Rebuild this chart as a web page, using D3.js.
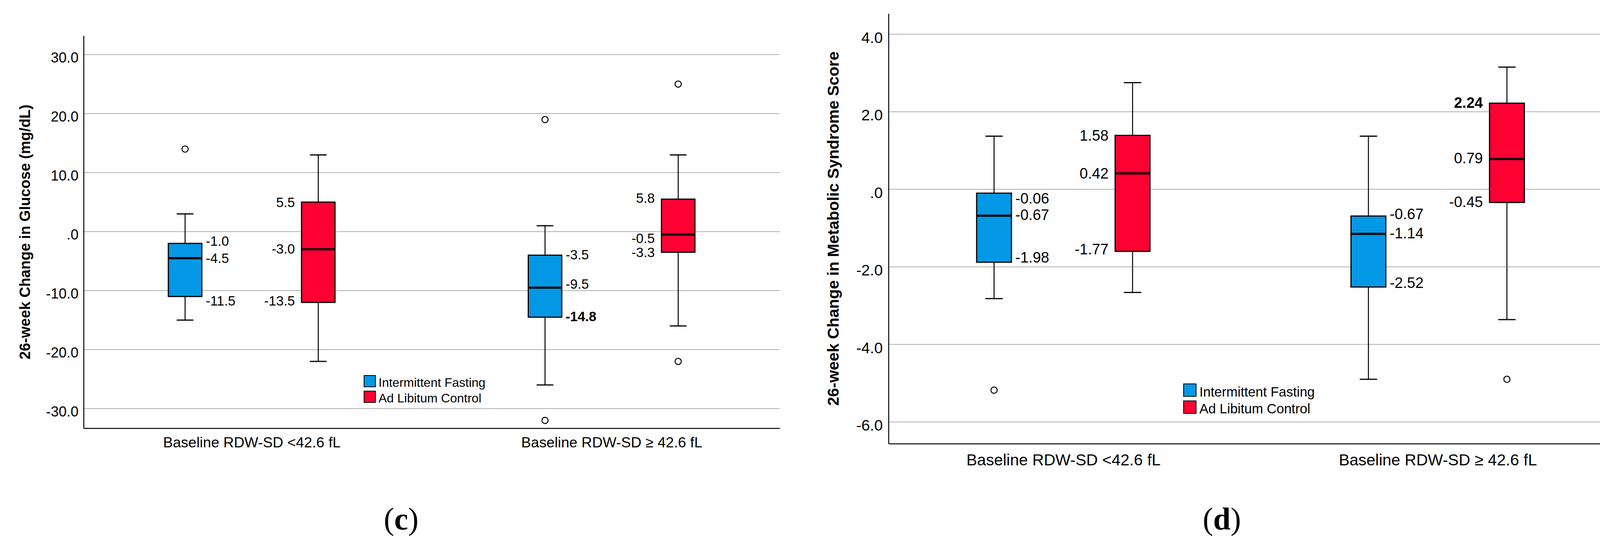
<!DOCTYPE html>
<html>
<head>
<meta charset="utf-8">
<script src="https://cdn.jsdelivr.net/npm/d3@7"></script>
<style>
  body { margin: 0; background: #fff; }
  svg { display: block; }
</style>
</head>
<body>
<script>
// categories and series
const categories = ["Baseline RDW-SD <42.6 fL", "Baseline RDW-SD \u2265 42.6 fL"];
const groups = ["Intermittent Fasting", "Ad Libitum Control"];

// (c) glucose: [lower whisker, Q1, median, Q3, upper whisker] per category
const glucoseIF  = [[-15, -11, -4.5, -2, 3], [-26, -14.5, -9.5, -4, 1]];
const glucoseALC = [[-22, -12, -3, 5, 13], [-16, -3.5, -0.5, 5.5, 13]];
const glucoseOutIF  = [[14], [19, -32]];
const glucoseOutALC = [[], [25, -22]];
// printed values: top, middle, bottom
const glucoseLabIF  = [["-1.0", "-4.5", "-11.5"], ["-3.5", "-9.5", "-14.8"]];
const glucoseLabALC = [["5.5", "-3.0", "-13.5"], ["5.8", "-0.5", "-3.3"]];
const glucoseTicks = [-30, -20, -10, 0, 10, 20, 30];

// (d) metabolic syndrome score
const metsIF  = [[-2.82, -1.88, -0.68, -0.1, 1.37], [-4.9, -2.52, -1.15, -0.69, 1.37]];
const metsALC = [[-2.66, -1.6, 0.41, 1.39, 2.75], [-3.36, -0.34, 0.78, 2.22, 3.15]];
const metsOutIF  = [[-5.18], []];
const metsOutALC = [[], [-4.9]];
const metsLabIF  = [["-0.06", "-0.67", "-1.98"], ["-0.67", "-1.14", "-2.52"]];
const metsLabALC = [["1.58", "0.42", "-1.77"], ["2.24", "0.79", "-0.45"]];
const metsTicks = [-6, -4, -2, 0, 2, 4];

const colors = ["#0398e6", "#ff0033"];
const SANS = "'Liberation Sans', Arial, sans-serif";
const SERIF = "'Liberation Serif', 'Times New Roman', serif";

const svg = d3.select("body").append("svg")
  .attr("width", 4156)
  .attr("height", 1400)
  .attr("viewBox", "0 0 4156 1400");

// SPSS style tick text: ".0", "-10.0"
const spssFmt = d => d === 0 ? ".0" : d.toFixed(1);

const drawPanel = p => {
  const y = d3.scaleLinear().domain(p.domain).range([p.bottom, p.top]);
  const x = d3.scalePoint().domain(categories).range([p.left, p.right]).padding(0.467);
  const step = x.step();
  const xs = d3.scalePoint().domain(groups).range([-0.185 * step, 0.185 * step]);
  const bw = 0.093 * step;

  const g = svg.append("g");

  // gridlines
  g.append("g").selectAll("line")
    .data(p.ticks)
    .join("line")
    .attr("x1", p.left).attr("x2", p.right)
    .attr("y1", d => y(d)).attr("y2", d => y(d))
    .attr("stroke", "#bdbdbd")
    .attr("stroke-width", 2.5);

  // y axis
  const ya = g.append("g")
    .attr("transform", `translate(${p.left},0)`)
    .call(d3.axisLeft(y).tickValues(p.ticks).tickSize(0).tickPadding(p.tickPad).tickFormat(spssFmt))
    .attr("font-family", SANS)
    .attr("font-size", p.fonts.tick);
  ya.select(".domain").attr("stroke", "#000").attr("stroke-width", 2.5);
  ya.selectAll("text").attr("dy", "0.55em").attr("fill", "#000");

  // x axis
  const xa = g.append("g")
    .attr("transform", `translate(0,${p.bottom})`)
    .call(d3.axisBottom(x).tickSize(0).tickSizeOuter(0).tickPadding(p.catBase - 0.71 * p.fonts.cat))
    .attr("font-family", SANS)
    .attr("font-size", p.fonts.cat);
  xa.select(".domain").attr("stroke", "#000").attr("stroke-width", 2.5);
  xa.selectAll("text").attr("fill", "#000");

  // y title
  g.append("text")
    .attr("transform", `translate(${p.titleX},${(p.top + p.bottom) / 2}) rotate(-90)`)
    .attr("text-anchor", "middle")
    .attr("font-family", SANS)
    .attr("font-weight", "bold")
    .attr("font-size", p.fonts.title)
    .text(p.title);

  const boxes = categories.flatMap((c, i) => groups.map((gr, s) => ({
    cx: x(c) + xs(gr),
    s,
    v: p.stats[s][i],
    out: p.outliers[s][i],
    lab: p.labels[s][i],
    nud: p.nudges[s][i]
  })));

  const bg = g.append("g").selectAll("g").data(boxes).join("g");

  // whiskers
  bg.append("line")
    .attr("x1", d => d.cx).attr("x2", d => d.cx)
    .attr("y1", d => y(d.v[4])).attr("y2", d => y(d.v[3]))
    .attr("stroke", "#000").attr("stroke-width", 2.5);
  bg.append("line")
    .attr("x1", d => d.cx).attr("x2", d => d.cx)
    .attr("y1", d => y(d.v[1])).attr("y2", d => y(d.v[0]))
    .attr("stroke", "#000").attr("stroke-width", 2.5);
  bg.selectAll(".cap")
    .data(d => [d.v[0], d.v[4]].map(v => ({ cx: d.cx, v })))
    .join("line")
    .attr("class", "cap")
    .attr("x1", d => d.cx - bw / 4).attr("x2", d => d.cx + bw / 4)
    .attr("y1", d => y(d.v)).attr("y2", d => y(d.v))
    .attr("stroke", "#000").attr("stroke-width", 3);

  // box
  bg.append("rect")
    .attr("x", d => d.cx - bw / 2)
    .attr("width", bw)
    .attr("y", d => y(d.v[3]))
    .attr("height", d => y(d.v[1]) - y(d.v[3]))
    .attr("fill", d => colors[d.s])
    .attr("stroke", "#000")
    .attr("stroke-width", 3);

  // median
  bg.append("line")
    .attr("x1", d => d.cx - bw / 2).attr("x2", d => d.cx + bw / 2)
    .attr("y1", d => y(d.v[2])).attr("y2", d => y(d.v[2]))
    .attr("stroke", "#000").attr("stroke-width", 5.5);

  // outliers
  bg.selectAll("circle")
    .data(d => d.out.map(v => ({ cx: d.cx, v })))
    .join("circle")
    .attr("cx", d => d.cx)
    .attr("cy", d => y(d.v))
    .attr("r", 8)
    .attr("fill", "#fff")
    .attr("stroke", "#000")
    .attr("stroke-width", 2.5);

  // value labels: IF to the right of box, control to the left
  bg.selectAll(".val")
    .data(d => d.lab.map((t, k) => ({ d, t, k })))
    .join("text")
    .attr("class", "val")
    .attr("x", o => o.d.s === 0 ? o.d.cx + bw / 2 + 10 : o.d.cx - bw / 2 - 17)
    .attr("y", o => y(o.d.v[[3, 2, 1][o.k]]) + o.d.nud[o.k])
    .attr("dy", "0.35em")
    .attr("text-anchor", o => o.d.s === 0 ? "start" : "end")
    .attr("font-family", SANS)
    .attr("font-size", p.fonts.label)
    .attr("font-weight", o => p.heavy.includes(o.t) ? "bold" : "normal")
    .text(o => o.t);

  // legend
  const lg = g.append("g").selectAll("g").data(groups).join("g")
    .attr("transform", (d, k) => `translate(${p.legend.x},${p.legend.y + k * p.legend.step})`);
  lg.append("rect")
    .attr("width", p.legend.size).attr("height", p.legend.size)
    .attr("fill", (d, k) => colors[k])
    .attr("stroke", "#000").attr("stroke-width", 2);
  lg.append("text")
    .attr("x", p.legend.size + p.legend.gap)
    .attr("y", p.legend.size)
    .attr("font-family", SANS)
    .attr("font-size", p.fonts.legend)
    .text(d => d);

  // panel tag
  const tag = g.append("text")
    .attr("x", p.tagX).attr("y", 1355)
    .attr("text-anchor", "middle")
    .attr("font-family", SERIF)
    .attr("font-size", 80);
  tag.append("tspan").text("(");
  tag.append("tspan").attr("font-weight", "bold").text(p.tag);
  tag.append("tspan").text(")");
};

drawPanel({
  left: 214, right: 1996, top: 91.5, bottom: 1096,
  domain: [-33.33, 33.2], ticks: glucoseTicks, tickPad: 13,
  catBase: 49, titleX: 77,
  title: "26-week Change in Glucose (mg/dL)",
  fonts: { tick: 36.5, label: 34.5, cat: 37.5, title: 38, legend: 32 },
  stats: [glucoseIF, glucoseALC],
  outliers: [glucoseOutIF, glucoseOutALC],
  labels: [glucoseLabIF, glucoseLabALC],
  nudges: [[[-6, 0, 11], [-1, -9, -2]], [[1, -1, -4], [-3, 10, 0]]],
  heavy: ["-14.8"],
  legend: { x: 932, y: 961, size: 29, step: 40, gap: 8 },
  tag: "c", tagX: 1027
});

drawPanel({
  left: 2274.5, right: 4128, top: 34.8, bottom: 1135.6,
  domain: [-6.56, 4.53], ticks: metsTicks, tickPad: 14.5,
  catBase: 55, titleX: 2147,
  title: "26-week Change in Metabolic Syndrome Score",
  fonts: { tick: 39.5, label: 38, cat: 41, title: 41, legend: 34.5 },
  stats: [metsIF, metsALC],
  outliers: [metsOutIF, metsOutALC],
  labels: [metsLabIF, metsLabALC],
  nudges: [[[13, -2, -12], [-5, -2, -11]], [[0, 0, -6], [-1, -2, -1]]],
  heavy: ["2.24"],
  legend: { x: 3030, y: 982.5, size: 32, step: 43.5, gap: 8.5 },
  tag: "d", tagX: 3128
});
</script>
</body>
</html>
